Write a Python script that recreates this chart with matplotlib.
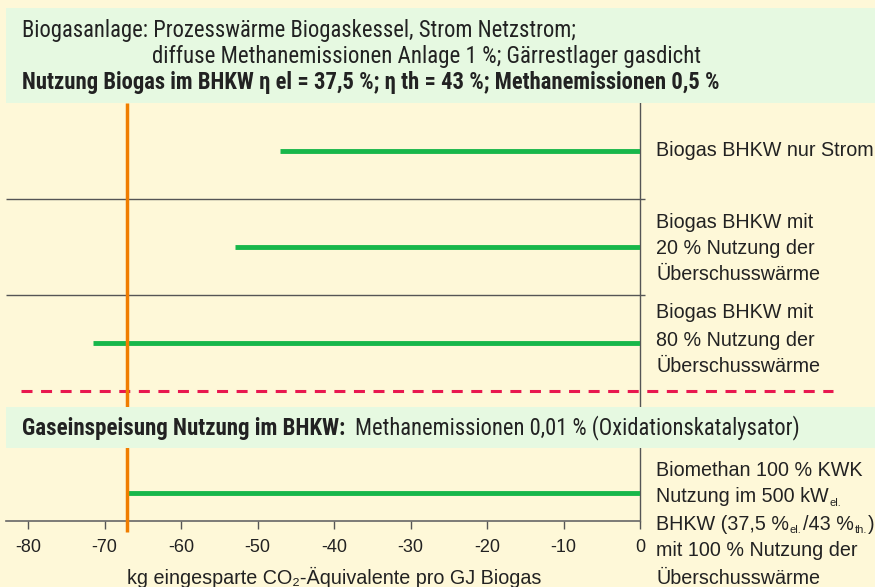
import matplotlib
matplotlib.use("Agg")
import matplotlib.pyplot as plt
from matplotlib import font_manager
from matplotlib.patches import Rectangle

# colours
cream = "#fef8d8"
pale_green = "#e6f9e1"
bar_green = "#17b74a"
orange = "#f07d00"
red = "#e8174f"
txt = "#222222"


def narrow_font():
    names = {f.name: f for f in font_manager.fontManager.ttflist}
    for n in ["Liberation Sans Narrow", "Arial Narrow", "Roboto Condensed", "Open Sans Condensed"]:
        if n in names:
            return {"family": n}
    for f in font_manager.fontManager.ttflist:
        if f.name == "DejaVu Sans" and "condensed" in str(f.stretch):
            return {"family": "DejaVu Sans", "stretch": "condensed"}
    return {"family": "Liberation Sans"}


narrow = narrow_font()
regular = {"family": "Liberation Sans"}


def fp(bold=False, base=None, size=None):
    kw = dict(base or narrow)
    if bold:
        kw["weight"] = "bold"
    if size:
        kw["size"] = size
    return font_manager.FontProperties(**kw)


# values (kg CO2-eq saved per GJ biogas)
biogas_labels = [["Biogas BHKW nur Strom"],
                 ["Biogas BHKW mit", "20 % Nutzung der", "Überschusswärme"],
                 ["Biogas BHKW mit", "80 % Nutzung der", "Überschusswärme"]]
biogas_values = [-47, -53, -71.5]
# biomethane label: each line is a list of (text, is_subscript)
biomethan_label = [[("Biomethan 100 % KWK", False)],
                   [("Nutzung im 500 kW", False), ("el.", True)],
                   [("BHKW (37,5 %", False), ("el.", True), ("/43 %", False), ("th.", True), (")", False)],
                   [("mit 100 % Nutzung der", False)],
                   [("Überschusswärme", False)]]
biomethan_value = -67
ticks = [-80, -70, -60, -50, -40, -30, -20, -10, 0]

# row positions (pixel rows, top = 0)
biogas_rows = [151, 247, 343]
label_rows = [[151], [222, 248, 274], [313, 340, 367]]
biomethan_row = 493
biomethan_label_rows = [470, 497, 524, 551, 578]
separators = [199, 295]

W, H = 875, 587
px_per_unit = 7.65
fig = plt.figure(figsize=(W / 100, H / 100), dpi=100, facecolor=cream)


def fit(t, width_px):
    # scale a text so that it spans the given width
    fig.canvas.draw()
    w = t.get_window_extent().width
    t.set_fontsize(t.get_fontsize() * width_px / w)
    return t.get_fontsize()


# data axes: x from the left edge (px 6) to zero (px 640), y in pixel rows
left_px, right_px, top_px, bot_px = 6, 640, 103, 521
ax = fig.add_axes([left_px / W, (H - bot_px) / H, (right_px - left_px) / W, (bot_px - top_px) / H])
ax.set_facecolor("none")
ax.set_xlim(-80 - (28 - left_px) / px_per_unit, 0)
ax.set_ylim(bot_px, top_px)
for s in ["left", "top"]:
    ax.spines[s].set_visible(False)
ax.spines["bottom"].set_color("#666666")
ax.spines["right"].set_color("#555555")
ax.spines["bottom"].set_linewidth(1.2)
ax.spines["right"].set_linewidth(1.0)
ax.set_yticks([])
ax.set_xticks(ticks)
ax.set_xticklabels([str(v) for v in ticks], fontproperties=fp(base=regular, size=13), color=txt)
ax.tick_params(axis="x", direction="out", length=6, width=1, color="#555555", pad=7)

# bars as thick horizontal lines
ax.hlines(biogas_rows, biogas_values, 0, colors=bar_green, lw=3.5, zorder=3)
ax.hlines(biomethan_row, biomethan_value, 0, colors=bar_green, lw=3.5, zorder=3)

# reference line at the biomethane value
ax.vlines(biomethan_value, top_px, 532, colors=orange, lw=2.5, zorder=4, clip_on=False)

# row separators, slightly past zero
ax.hlines(separators, ax.get_xlim()[0], 5 / px_per_unit, colors="#555555", lw=1.0, clip_on=False)

# dashed red divider
ax.hlines(391, -80 - (28 - 21) / px_per_unit, (833 - 640) / px_per_unit, colors=red,
          lw=2.2, linestyles=(0, (3.6, 2.8)), clip_on=False, zorder=2)

# overlay for header boxes and texts, in pixels
ov = fig.add_axes([0, 0, 1, 1], zorder=2)
ov.set_xlim(0, W)
ov.set_ylim(H, 0)
ov.axis("off")
ov.patch.set_alpha(0)

ov.add_patch(Rectangle((6, 8), W - 6, 95, color=pale_green, lw=0))
ov.add_patch(Rectangle((6, 407), W - 6, 41, color=pale_green, lw=0))

t = ov.text(22, 30, "Biogasanlage: Prozesswärme Biogaskessel, Strom Netzstrom;",
            fontproperties=fp(size=13), color=txt, va="center")
fit(t, 550)
t = ov.text(152, 56, "diffuse Methanemissionen Anlage 1 %; Gärrestlager gasdicht",
            fontproperties=fp(size=13), color=txt, va="center")
fit(t, 545)
t = ov.text(22, 83, "Nutzung Biogas im BHKW η el = 37,5 %; η th = 43 %; Methanemissionen 0,5 %",
            fontproperties=fp(bold=True, size=12.5), color=txt, va="center")
fit(t, 698)

t_bold = ov.text(22, 428, "Gaseinspeisung Nutzung im BHKW:", fontproperties=fp(bold=True, size=12.5),
                 color=txt, va="center")
fit(t_bold, 325)
t = ov.text(355, 428, "Methanemissionen 0,01 % (Oxidationskatalysator)",
            fontproperties=fp(size=13), color=txt, va="center")
fit(t, 442)

# x axis label
xl = ov.text(334, 577, "kg eingesparte CO₂-Äquivalente pro GJ Biogas",
             fontproperties=fp(base=regular, size=13), color=txt, ha="center", va="center")
fit(xl, 412)

# row labels right of the zero line
lab_size = 14.2
for lines, rows in zip(biogas_labels, label_rows):
    for line, y in zip(lines, rows):
        ov.text(656, y, line, fontproperties=fp(base=regular, size=lab_size), color=txt,
                va="center")

fig.canvas.draw()
for pieces, y in zip(biomethan_label, biomethan_label_rows):
    x = 656
    for s, sub in pieces:
        if sub:
            t = ov.text(x + 1, y + 6, s, fontproperties=fp(base=regular, size=8),
                        color=txt, va="center")
        else:
            t = ov.text(x, y, s, fontproperties=fp(base=regular, size=lab_size),
                        color=txt, va="center")
        fig.canvas.draw()
        x = t.get_window_extent().x1 + (1 if sub else 0)

fig.savefig("out.png", dpi=100, facecolor=cream)
